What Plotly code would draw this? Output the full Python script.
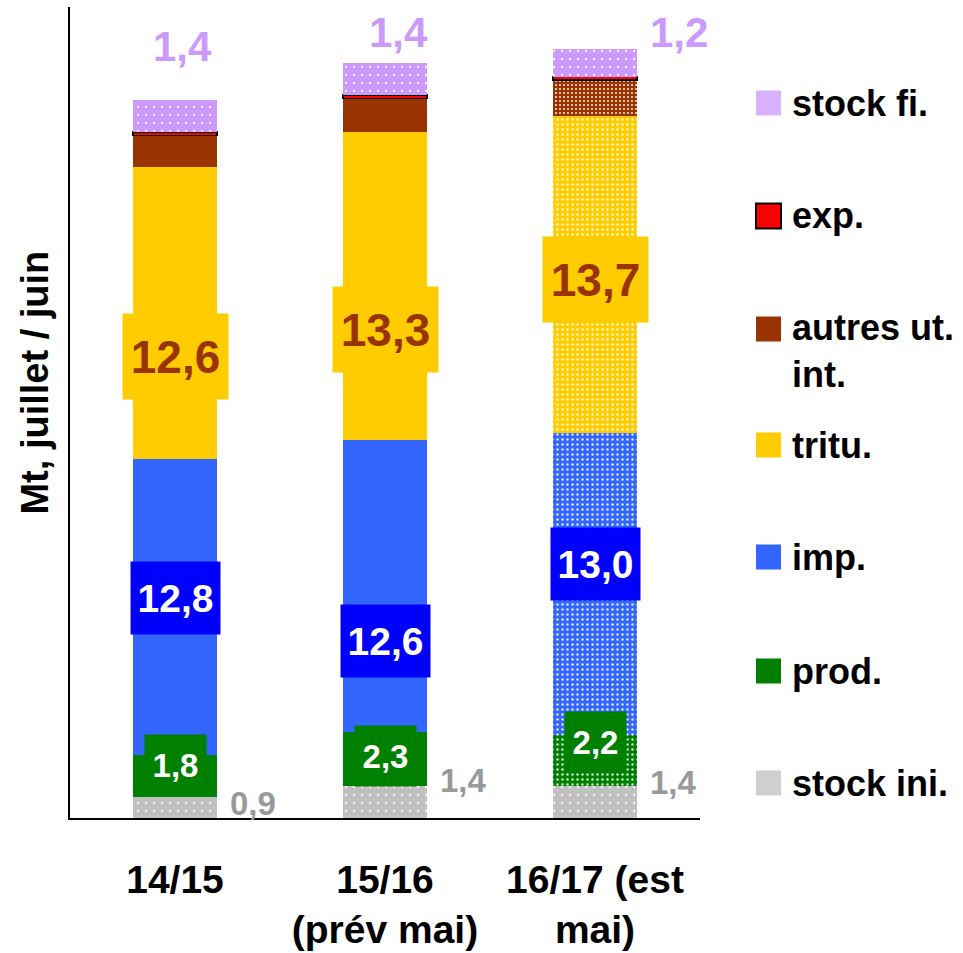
import plotly.graph_objects as go

# ── Data ─────────────────────────────────────────────────────────────────
campaigns = ["14/15", "15/16<br>(prév mai)", "16/17 (est<br>mai)"]
stock_ini = [0.9, 1.4, 1.4]
prod = [1.8, 2.3, 2.2]
imp = [12.8, 12.6, 13.0]
tritu = [12.6, 13.3, 13.7]
autres = [1.35, 1.45, 1.55]
export = [0.15, 0.15, 0.15]
stock_fi = [1.4, 1.4, 1.2]

# ── Style ────────────────────────────────────────────────────────────────
FONT = "Liberation Sans, Arial, sans-serif"
C_GRAY, C_GREEN, C_BLUE = "#C0C0C0", "#008000", "#3366FF"
C_YELLOW, C_BROWN, C_RED, C_VIOLET = "#FFCC00", "#993300", "#FF0000", "#CC99FF"

# last campaign (estimate) is drawn dotted
est = ["", "", "."]
series = [
    # name, values, colour, pattern shapes, pattern size, solidity
    ("stock ini.", stock_ini, C_GRAY, ["."] * 3, 8, 0.07),
    ("prod.", prod, C_GREEN, est, 5, 0.18),
    ("imp.", imp, C_BLUE, est, 5, 0.18),
    ("tritu.", tritu, C_YELLOW, est, 5, 0.18),
    ("autres ut. int.", autres, C_BROWN, est, 4, 0.22),
    ("exp.", export, C_RED, [""] * 3, 8, 0.1),
    ("stock fi.", stock_fi, C_VIOLET, ["."] * 3, 8, 0.07),
]

fig = go.Figure()
for name, vals, color, shapes, size, sol in series:
    fig.add_trace(go.Bar(
        x=campaigns, y=vals, name=name, width=0.4,
        marker=dict(
            color=color,
            line=dict(color="black", width=1.5 if name == "exp." else 0),
            pattern=dict(shape=shapes, size=size, solidity=sol,
                         fgcolor="white", fgopacity=0.85),
        ),
        showlegend=False, hoverinfo="skip",
    ))


def fmt(v):
    return f"{v:.1f}".replace(".", ",")


# cumulative bases for label placement
bases = {}
running = [0.0] * 3
for name, vals, *_ in series:
    bases[name] = list(running)
    running = [r + v for r, v in zip(running, vals)]
tops = running

annotations = []

# boxed value labels inside segments: (series, values, fraction within segment,
# text colour, box colour, font size, box w, box h)
boxed = [
    ("tritu.", tritu, [0.35, 0.36, 0.485], C_BROWN, C_YELLOW, 46, 105, 85),
    ("imp.", imp, [0.53, 0.314, 0.567], "white", "#0000FF", 39, 89, 72),
    ("prod.", prod, [0.77, 0.56, 0.85], "white", C_GREEN, 33, 61, 60),
]
for name, vals, fracs, tcol, bcol, fs, w, h in boxed:
    for i, v in enumerate(vals):
        annotations.append(dict(
            x=campaigns[i], y=bases[name][i] + fracs[i] * v,
            xref="x", yref="y", text=fmt(v), showarrow=False,
            font=dict(size=fs, color=tcol, family=FONT, weight="bold"),
            bgcolor=bcol, width=w, height=h, borderpad=0,
        ))

# stock ini. labels, right of bars
for i, v in enumerate(stock_ini):
    annotations.append(dict(
        x=campaigns[i], y=v, xref="x", yref="y", text=fmt(v),
        showarrow=False, xshift=78, yshift=[-6, 5, 3][i],
        font=dict(size=33, color="#999999", family=FONT, weight="bold"),
    ))
# stock fi. labels, above bars
for i, v in enumerate(stock_fi):
    annotations.append(dict(
        x=campaigns[i], y=tops[i], xref="x", yref="y", text=fmt(v),
        showarrow=False, xshift=[7, 13, 84][i], yshift=[53, 30, 16][i],
        font=dict(size=42, color=C_VIOLET, family=FONT, weight="bold"),
    ))

# y-axis title
annotations.append(dict(
    x=-0.092, y=0.537, xref="paper", yref="paper", text="Mt, juillet / juin",
    textangle=-90, showarrow=False,
    font=dict(size=38, color="black", family=FONT, weight="bold"),
))

# ── Manual legend (right side) ───────────────────────────────────────────
PLOT_H, PLOT_B = 811, 818
legend_items = [
    ("stock fi.", "#D9B3FF", 103, None),
    ("exp.", C_RED, 216, "black"),
    ("autres ut.<br>int.", C_BROWN, 329, None),
    ("tritu.", C_YELLOW, 445, None),
    ("imp.", C_BLUE, 557, None),
    ("prod.", C_GREEN, 671, None),
    ("stock ini.", "#CFCFCF", 783, None),
]
shapes = []
for label, col, ypix, border in legend_items:
    yp = (PLOT_B - ypix) / PLOT_H
    shapes.append(dict(
        type="rect", xref="paper", yref="paper",
        xsizemode="pixel", ysizemode="pixel",
        xanchor=(768.5 - 70) / 630, yanchor=yp,
        x0=-12.5, x1=12.5, y0=-12.5, y1=12.5,
        fillcolor=col, line=dict(color=border or col, width=2 if border else 0),
    ))
    multi = "<br>" in label
    annotations.append(dict(
        x=(790 - 70) / 630, y=yp, xref="paper", yref="paper",
        text=label, showarrow=False, xanchor="left",
        yanchor="top" if multi else "middle", yshift=24 if multi else 0,
        align="left",
        font=dict(size=36, color="black", family=FONT, weight="bold"),
    ))

fig.update_layout(
    barmode="stack",
    width=963, height=953,
    margin=dict(l=70, r=263, t=7, b=135),
    plot_bgcolor="white", paper_bgcolor="white",
    font=dict(family=FONT, size=39, color="black", weight="bold"),
    showlegend=False,
    annotations=annotations,
    shapes=shapes,
)
fig.update_xaxes(
    range=[-0.5, 2.5], showline=True, linecolor="black", linewidth=1.5,
    ticks="", ticklabelstandoff=26, showgrid=False, automargin=False,
    tickfont=dict(size=39, family=FONT, weight="bold"),
)
fig.update_yaxes(
    range=[0, 35], showline=True, linecolor="black", linewidth=1.5,
    showticklabels=False, ticks="", showgrid=False, zeroline=False,
    automargin=False,
)

# drop the default page margin so the figure fills the window
fig.write_html("out.html", config={"displayModeBar": False},
               post_script="document.body.style.margin='0';")
